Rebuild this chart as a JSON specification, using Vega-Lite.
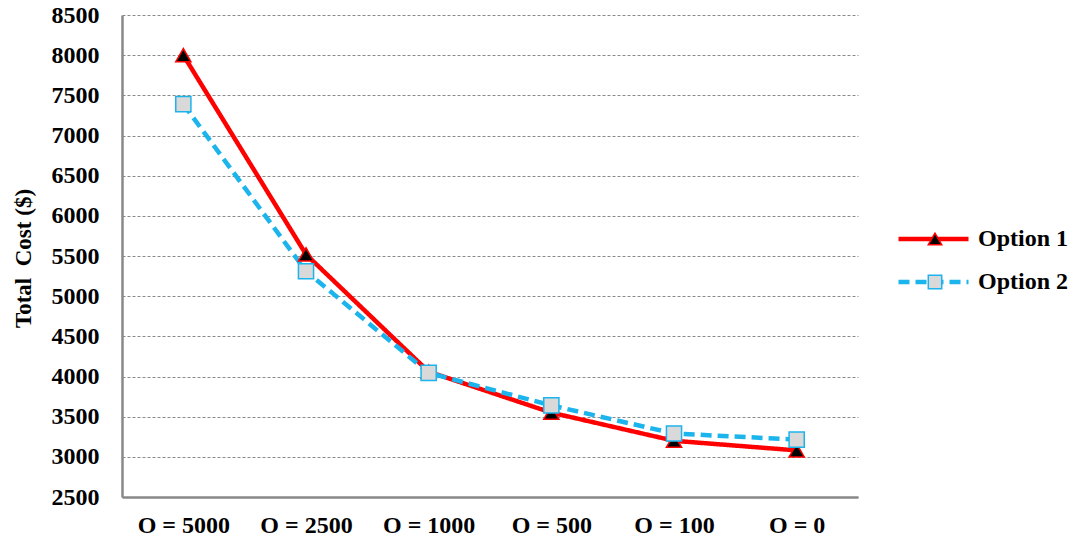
{
  "$schema": "https://vega.github.io/schema/vega-lite/v6.json",
  "width": 736,
  "height": 482,
  "autosize": "none",
  "padding": {"left": 122, "top": 15, "right": 227, "bottom": 42},
  "background": "white",
  "config": {
    "view": {"stroke": null},
    "font": "Liberation Serif"
  },
  "data": {
    "values": [
      {"setting": "O = 5000", "Option 1": 8000, "Option 2": 7390},
      {"setting": "O = 2500", "Option 1": 5520, "Option 2": 5310},
      {"setting": "O = 1000", "Option 1": 4060, "Option 2": 4045},
      {"setting": "O = 500", "Option 1": 3550, "Option 2": 3640},
      {"setting": "O = 100", "Option 1": 3200, "Option 2": 3290},
      {"setting": "O = 0", "Option 1": 3080, "Option 2": 3215}
    ]
  },
  "encoding": {
    "x": {
      "field": "setting",
      "type": "ordinal",
      "sort": ["O = 5000", "O = 2500", "O = 1000", "O = 500", "O = 100", "O = 0"],
      "scale": {"type": "point", "padding": 0.5},
      "axis": {
        "title": null,
        "labelAngle": 0,
        "labelFont": "Liberation Serif",
        "labelFontWeight": "bold",
        "labelFontSize": 24,
        "labelColor": "#000000",
        "labelPadding": 16,
        "ticks": false,
        "grid": false,
        "domainColor": "#888888",
        "domainWidth": 2.5
      }
    },
    "y": {
      "field": "cost",
      "type": "quantitative",
      "scale": {"domain": [2500, 8500], "nice": false, "zero": false},
      "axis": {
        "title": "Total\u00a0\u00a0Cost ($)",
        "titleFont": "Liberation Serif",
        "titleFontWeight": "bold",
        "titleFontSize": 23,
        "titleColor": "#000000",
        "titleX": -99,
        "titleY": 243,
        "titleAlign": "center",
        "titleBaseline": "middle",
        "values": [2500, 3000, 3500, 4000, 4500, 5000, 5500, 6000, 6500, 7000, 7500, 8000, 8500],
        "format": "d",
        "labelFont": "Liberation Serif",
        "labelFontWeight": "bold",
        "labelFontSize": 24,
        "labelColor": "#000000",
        "labelPadding": 23,
        "ticks": false,
        "grid": true,
        "gridColor": "#8a8a8a",
        "gridDash": [3, 2],
        "gridWidth": 1,
        "domainColor": "#888888",
        "domainWidth": 2.5
      }
    }
  },
  "layer": [
    {
      "transform": [{"fold": ["Option 1", "Option 2"], "as": ["series", "cost"]}],
      "mark": {"type": "line", "strokeWidth": 4.5},
      "encoding": {
        "color": {
          "field": "series",
          "type": "nominal",
          "scale": {"domain": ["Option 1", "Option 2"], "range": ["#ff0000", "#1cb4ec"]},
          "legend": {
            "title": null,
            "orient": "none",
            "legendX": 774,
            "legendY": 211,
            "symbolType": "stroke",
            "symbolSize": 4900,
            "symbolStrokeWidth": 4.5,
            "clipHeight": 26,
            "rowPadding": 17,
            "labelFont": "Liberation Serif",
            "labelFontWeight": "bold",
            "labelFontSize": 24,
            "labelColor": "#000000",
            "labelOffset": 7
          }
        },
        "strokeDash": {
          "field": "series",
          "type": "nominal",
          "scale": {"domain": ["Option 1", "Option 2"], "range": [[1, 0], [11, 6]]}
        }
      }
    },
    {
      "transform": [{"fold": ["Option 1", "Option 2"], "as": ["marker", "cost"]}],
      "mark": {"type": "point", "filled": true, "opacity": 1, "strokeWidth": 1.5, "size": 230},
      "encoding": {
        "shape": {
          "field": "marker",
          "type": "nominal",
          "scale": {"range": ["triangle-up", "square"]},
          "legend": {
            "title": null,
            "orient": "none",
            "legendX": 801,
            "legendY": 211,
            "symbolSize": 180,
            "clipHeight": 26,
            "rowPadding": 17,
            "labelFontSize": 24,
            "labelExpr": "''",
            "symbolOpacity": 1
          }
        },
        "fill": {
          "field": "marker",
          "type": "nominal",
          "scale": {"range": ["#000000", "#d9d9d9"]}
        },
        "stroke": {
          "field": "marker",
          "type": "nominal",
          "scale": {"range": ["#ff0000", "#1cb4ec"]}
        }
      }
    }
  ]
}
